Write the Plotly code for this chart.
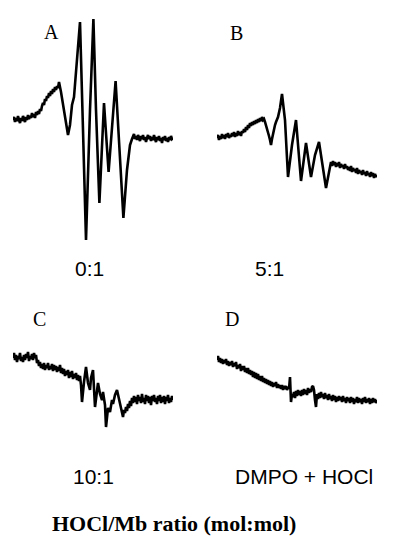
import plotly.graph_objects as go

# ---- EPR spectra data: (field offset in G, signal intensity in arbitrary units) ----
spectrum_A = [
    (0, 10), (0.5, 13), (1, 8), (1.5, 12), (2, 9), (2.5, 14), (3, 10), (3.5, 7), (4, 12), (4.5, 9), (5, 14), (5.5, 11),
    (6, 8), (6.5, 13), (7, 10), (7.5, 15), (8, 11), (8.5, 14), (9, 12), (9.5, 17), (10, 13), (10.5, 16), (11, 12),
    (11.5, 18), (12, 15), (12.5, 19), (13, 16), (13.5, 21), (14, 19), (14.5, 24), (15, 27), (15.5, 25), (16, 31),
    (16.5, 29), (17, 34), (17.5, 32), (18, 37), (18.5, 34), (19, 39), (19.5, 36), (20, 41), (20.5, 38), (21, 43),
    (21.5, 40), (22, 44), (22.5, 42), (23, 48), (24, 38), (25, 25), (26, 12), (27, 0), (27.5, -5), (28.5, 5),
    (29.5, 25), (30.5, 33), (32, 75), (33.5, 108), (35, 0), (36.5, -110), (38.5, 20), (40.2, 111), (41.5, 20),
    (43.2, -73), (45.5, 27), (47.8, -42), (51.3, 49), (53, -10), (55.2, -88), (57, -40), (58.5, -15), (59.5, -9),
    (60, -7), (60.5, -4), (61, -9), (61.5, -6), (62, -10), (62.5, -5), (63, -8), (63.5, -11), (64, -6), (64.5, -9),
    (65, -5), (65.5, -10), (66, -7), (66.5, -12), (67, -8), (67.5, -5), (68, -9), (68.5, -6), (69, -11), (69.5, -7),
    (70, -10), (70.5, -5), (71, -9), (71.5, -12), (72, -7), (72.5, -10), (73, -6), (73.5, -11), (74, -8), (74.5, -13),
    (75, -7), (75.5, -10), (76, -6), (76.5, -11), (77, -8), (77.5, -12), (78, -7), (78.5, -10), (79, -6), (79.5, -9),
    (80, -8),
]

spectrum_B = [
    (0, -8), (0.5, -5), (1, -10), (1.5, -6), (2, -9), (2.5, -4), (3, -8), (3.5, -5), (4, -9), (4.5, -4), (5, -7),
    (5.5, -3), (6, -8), (6.5, -5), (7, -7), (7.5, -3), (8, -6), (8.5, -2), (9, -7), (9.5, -3), (10, -6), (10.5, -1),
    (11, -5), (11.5, -2), (12, -6), (12.5, -1), (13, -3), (13.5, 1), (14, -2), (14.5, 3), (15, 0), (15.5, 5), (16, 2),
    (16.5, 7), (17, 4), (17.5, 8), (18, 5), (18.5, 9), (19, 6), (19.5, 10), (20, 7), (20.5, 11), (21, 8), (21.5, 12),
    (22, 9), (22.5, 13), (23, 10), (23.5, 11), (24, 8), (24.5, 5), (25, 2), (25.5, -2), (26, -6), (26.5, -10),
    (27, -15), (27.5, -9), (28, -3), (28.5, 1), (29, 5), (29.5, 8), (30, 11), (30.5, 13), (31.5, 22), (32.5, 36),
    (34, 10), (35.5, -47), (37.5, -15), (39.5, 10), (42, -51), (44.5, -13), (47, -47), (49, -25), (51, -12),
    (52.5, -33), (54.5, -58), (56.5, -37), (57, -32), (57.5, -36), (58, -31), (58.5, -35), (59, -32), (59.5, -37),
    (60, -33), (60.5, -36), (61, -32), (61.5, -38), (62, -34), (62.5, -37), (63, -35), (63.5, -39), (64, -34),
    (64.5, -38), (65, -36), (65.5, -40), (66, -37), (66.5, -41), (67, -36), (67.5, -42), (68, -38), (68.5, -41),
    (69, -39), (69.5, -43), (70, -38), (70.5, -44), (71, -40), (71.5, -43), (72, -41), (72.5, -45), (73, -40),
    (73.5, -44), (74, -42), (74.5, -46), (75, -41), (75.5, -45), (76, -43), (76.5, -47), (77, -42), (77.5, -46),
    (78, -43), (78.5, -48), (79, -44), (79.5, -47), (80, -45),
]

spectrum_C = [
    (0, 22), (0.5, 27), (1, 20), (1.5, 25), (2, 18), (2.5, 24), (3, 21), (3.5, 27), (4, 19), (4.5, 23), (5, 18),
    (5.5, 25), (6, 20), (6.5, 26), (7, 22), (7.5, 28), (8, 19), (8.5, 24), (9, 21), (9.5, 26), (10, 20), (10.5, 27),
    (11, 22), (11.5, 25), (12, 17), (12.5, 20), (13, 14), (13.5, 18), (14, 12), (14.5, 16), (15, 11), (15.5, 17),
    (16, 10), (16.5, 15), (17, 12), (17.5, 17), (18, 10), (18.5, 14), (19, 11), (19.5, 16), (20, 9), (20.5, 15),
    (21, 10), (21.5, 14), (22, 8), (22.5, 13), (23, 9), (23.5, 15), (24, 7), (24.5, 12), (25, 6), (25.5, 11), (26, 4),
    (26.5, 9), (27, 5), (27.5, 10), (28, 2), (28.5, 8), (29, 3), (29.5, 9), (30, 1), (30.5, 6), (31, 2), (31.5, 7),
    (32, 0), (32.5, 5), (33, -1), (33.5, 4), (34, -5), (34.5, -22), (35.5, -2), (36.5, 13), (37.5, -3), (38.5, -10),
    (39, 2), (40, 10), (41, -27), (42, -10), (42.5, -3), (43.5, -14), (44.5, -20), (45, -12), (46, -25), (46.5, -47),
    (47.5, -28), (48.5, -32), (49.5, -20), (50, -24), (51, -15), (52, -10), (53, -18), (53.5, -25), (54.5, -33),
    (55, -37), (55.5, -30), (56, -33), (56.5, -27), (57, -31), (57.5, -24), (58, -28), (58.5, -21), (59, -26),
    (59.5, -18), (60, -23), (60.5, -16), (61, -22), (61.5, -17), (62, -24), (62.5, -15), (63, -21), (63.5, -17),
    (64, -23), (64.5, -14), (65, -22), (65.5, -18), (66, -24), (66.5, -15), (67, -21), (67.5, -16), (68, -23),
    (68.5, -17), (69, -25), (69.5, -16), (70, -21), (70.5, -15), (71, -22), (71.5, -18), (72, -24), (72.5, -16),
    (73, -21), (73.5, -15), (74, -23), (74.5, -17), (75, -22), (75.5, -16), (76, -24), (76.5, -17), (77, -21),
    (77.5, -15), (78, -23), (78.5, -18), (79, -22), (79.5, -16), (80, -20),
]

spectrum_D = [
    (0, 20), (0.5, 24), (1, 18), (1.5, 22), (2, 17), (2.5, 21), (3, 16), (3.5, 20), (4, 17), (4.5, 21), (5, 15),
    (5.5, 19), (6, 14), (6.5, 18), (7, 15), (7.5, 19), (8, 13), (8.5, 17), (9, 14), (9.5, 18), (10, 11), (10.5, 15),
    (11, 12), (11.5, 16), (12, 9), (12.5, 14), (13, 10), (13.5, 14), (14, 8), (14.5, 12), (15, 7), (15.5, 12), (16, 6),
    (16.5, 10), (17, 5), (17.5, 9), (18, 3), (18.5, 8), (19, 2), (19.5, 7), (20, 1), (20.5, 6), (21, 0), (21.5, 4),
    (22, -1), (22.5, 4), (23, -2), (23.5, 2), (24, -3), (24.5, 1), (25, -4), (25.5, 0), (26, -5), (26.5, -1), (27, -6),
    (27.5, -2), (28, -7), (28.5, -3), (29, -6), (29.5, -2), (30, -8), (30.5, -4), (31, -8), (31.5, -5), (32, -9),
    (32.5, -5), (33, -10), (33.5, -6), (34, -9), (34.5, -6), (35, -10), (35.5, -7), (36, -9), (36.5, 3), (37, -22),
    (37.5, -14), (38, -17), (38.5, -12), (39, -18), (39.5, -11), (40, -16), (40.5, -10), (41, -15), (41.5, -11),
    (42, -16), (42.5, -10), (43, -15), (43.5, -9), (44, -14), (44.5, -10), (45, -15), (45.5, -8), (46, -13),
    (46.5, -9), (47, -12), (47.5, -7), (48, -6), (48.5, -10), (49, -20), (49.5, -27), (50, -14), (50.5, -19),
    (51, -13), (51.5, -18), (52, -12), (52.5, -17), (53, -14), (53.5, -19), (54, -13), (54.5, -18), (55, -15),
    (55.5, -20), (56, -14), (56.5, -19), (57, -16), (57.5, -21), (58, -15), (58.5, -20), (59, -16), (59.5, -22),
    (60, -17), (60.5, -21), (61, -16), (61.5, -20), (62, -17), (62.5, -22), (63, -16), (63.5, -21), (64, -18),
    (64.5, -23), (65, -17), (65.5, -21), (66, -18), (66.5, -23), (67, -17), (67.5, -22), (68, -18), (68.5, -24),
    (69, -19), (69.5, -22), (70, -17), (70.5, -23), (71, -18), (71.5, -22), (72, -19), (72.5, -24), (73, -18),
    (73.5, -22), (74, -17), (74.5, -23), (75, -19), (75.5, -22), (76, -18), (76.5, -24), (77, -19), (77.5, -23),
    (78, -18), (78.5, -22), (79, -19), (79.5, -23), (80, -20),
]

panel_letters = ["A", "B", "C", "D"]
ratio_labels = ["0:1", "5:1", "10:1", "DMPO + HOCl"]
axis_title = "HOCl/Mb ratio (mol:mol)"

# page is 402x550; plotly's page has an 8px body margin
OFF = 8
W, H = 402 - 2 * OFF, 550 - 2 * OFF

fig = go.Figure()
series = [spectrum_A, spectrum_B, spectrum_C, spectrum_D]
for i, spec in enumerate(series):
    suffix = "" if i == 0 else str(i + 1)
    fx = [p[0] for p in spec]
    fy = [p[1] for p in spec]
    fig.add_trace(go.Scatter(x=fx, y=fy, mode="lines", xaxis="x" + suffix, yaxis="y" + suffix,
                             line=dict(color="black", width=2.6), showlegend=False, hoverinfo="skip"))


def px_x(p):
    return (p - OFF) / W


def px_y(p):
    return 1 - (p - OFF) / H


x_left = [px_x(13), px_x(173)]
x_right = [px_x(217), px_x(377)]
y_top = [px_y(250), px_y(10)]
y_bot = [px_y(440), px_y(320)]
doms = [(x_left, y_top, 120), (x_right, y_top, 120), (x_left, y_bot, 60), (x_right, y_bot, 60)]

hidden = dict(visible=False, showgrid=False, zeroline=False, fixedrange=True)
layout_axes = {}
for i, (dx, dy, r) in enumerate(doms):
    suffix = "" if i == 0 else str(i + 1)
    layout_axes["xaxis" + suffix] = dict(domain=dx, range=[0, 80], anchor="y" + suffix, **hidden)
    layout_axes["yaxis" + suffix] = dict(domain=dy, range=[-r, r], anchor="x" + suffix, **hidden)

fig.update_layout(width=W, height=H, margin=dict(l=0, r=0, t=0, b=0),
                  paper_bgcolor="white", plot_bgcolor="white", **layout_axes)

letter_pos = [(51, 32), (236, 33), (39.5, 319), (232.5, 319)]
for t, (x, y) in zip(panel_letters, letter_pos):
    fig.add_annotation(text=t, x=px_x(x), y=px_y(y), xref="paper", yref="paper", showarrow=False,
                       xanchor="center", yanchor="middle",
                       font=dict(family="Liberation Serif", size=20, color="black"))

ratio_pos = [(89, 268), (269, 268), (93, 476.5), (304, 476.5)]
for t, (x, y) in zip(ratio_labels, ratio_pos):
    fig.add_annotation(text=t, x=px_x(x), y=px_y(y), xref="paper", yref="paper", showarrow=False,
                       xanchor="center", yanchor="middle",
                       font=dict(family="Liberation Sans", size=21, color="black"))

fig.add_annotation(text="<b>" + axis_title + "</b>", x=px_x(173.5), y=px_y(523), xref="paper", yref="paper",
                   showarrow=False, xanchor="center", yanchor="middle",
                   font=dict(family="Liberation Serif", size=22, color="black"))

fig.write_html("out.html")
